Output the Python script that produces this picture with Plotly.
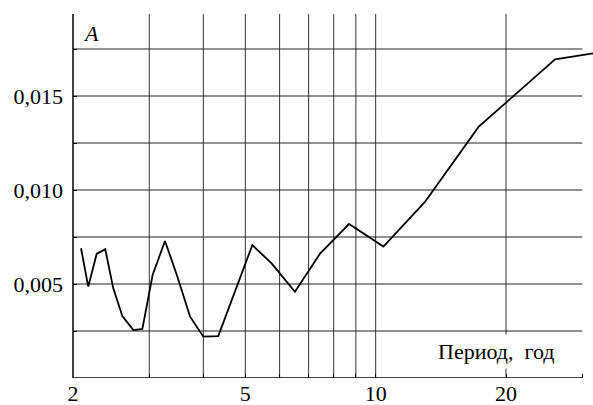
import numpy as np
import plotly.graph_objects as go

# Data
period = [2.087, 2.169, 2.268, 2.374, 2.478, 2.600, 2.757, 2.892, 3.054, 3.262,
          3.48, 3.728, 4.0, 4.33, 5.19, 5.75, 6.51, 7.43, 8.68, 10.42,
          12.98, 17.3, 25.96, 32.0]
amplitude = [0.00690, 0.00486, 0.00660, 0.00685, 0.00477, 0.00330, 0.00255, 0.00261, 0.00548, 0.00729,
             0.00543, 0.00326, 0.00220, 0.00223, 0.00707, 0.00610, 0.00459, 0.00660, 0.00819, 0.00699,
             0.00935, 0.01337, 0.01695, 0.01728]

x_ticks = [2, 3, 4, 5, 6, 7, 8, 9, 10, 20, 30]
x_tick_text = ["2", "", "", "5", "", "", "", "", "10", "20", ""]
x_grid = [3, 4, 5, 6, 7, 8, 9, 10, 20]
y_ticks = [0.0025, 0.005, 0.0075, 0.010, 0.0125, 0.015, 0.0175]
y_tick_text = ["", "0,005", "", "0,010", "", "0,015", ""]
y_grid = [0.0025, 0.005, 0.0075, 0.010, 0.0125, 0.015, 0.0175]
x_axis_end = 30

FONT = "'Liberation Serif', 'Times New Roman', serif"

fig = go.Figure()
fig.add_trace(go.Scatter(x=period, y=amplitude, mode="lines",
                         line=dict(color="black", width=1.8), showlegend=False,
                         hoverinfo="skip"))

shapes = []
for gx in x_grid:
    shapes.append(dict(type="line", xref="x", yref="paper", x0=gx, x1=gx, y0=0, y1=1,
                       line=dict(color="#333", width=1), layer="below"))
for gy in y_grid:
    shapes.append(dict(type="line", xref="x", yref="y", x0=2, x1=x_axis_end, y0=gy, y1=gy,
                       line=dict(color="#222", width=1), layer="below"))
# axis lines
shapes.append(dict(type="line", xref="x", yref="y", x0=2, x1=x_axis_end, y0=0, y1=0,
                   line=dict(color="black", width=1.5)))
shapes.append(dict(type="line", xref="paper", yref="paper", x0=0, x1=0, y0=0, y1=1,
                   line=dict(color="black", width=1.5)))

fig.update_layout(
    width=593, height=405,
    margin=dict(l=73, r=0, t=14, b=27),
    plot_bgcolor="white", paper_bgcolor="white",
    font=dict(family=FONT, size=22, color="black"),
    shapes=shapes,
    xaxis=dict(type="log", range=[np.log10(2), np.log10(31.76)],
               tickvals=x_ticks, ticktext=x_tick_text,
               showgrid=False, zeroline=False, showline=False,
               ticks="inside", ticklen=4, tickcolor="black", tickwidth=1.2,
               ticklabelstandoff=0),
    yaxis=dict(range=[0, 0.019362], tickvals=y_ticks, ticktext=y_tick_text,
               showgrid=False, zeroline=False, showline=False,
               ticks="inside", ticklen=4, tickcolor="black", tickwidth=1.2,
               ticklabelstandoff=9),
    annotations=[
        dict(text="<i>A</i>", xref="paper", yref="paper", x=0.016, y=0.985,
             xanchor="left", yanchor="top", showarrow=False,
             font=dict(family=FONT, size=22)),
        dict(text="Период,  год", xref="paper", yref="paper", x=0.8144, y=0.072,
             xanchor="center", yanchor="middle", showarrow=False,
             bgcolor="white", borderpad=4,
             font=dict(family=FONT, size=22)),
    ],
)

fig.write_html("out.html", config={"displayModeBar": False},
               post_script="document.body.style.margin='0';document.body.style.overflow='hidden';")
